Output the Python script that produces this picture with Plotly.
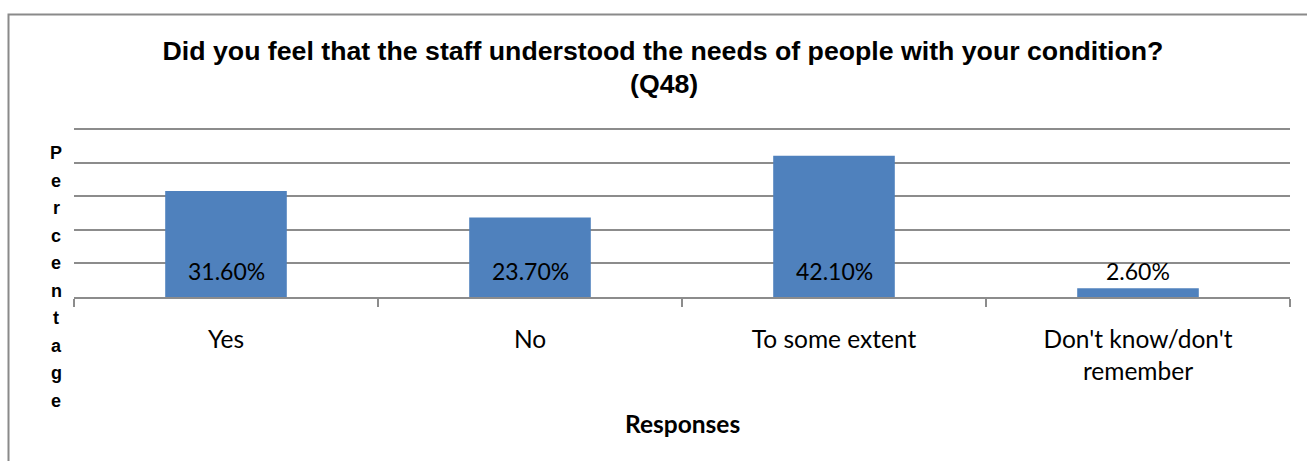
import plotly.graph_objects as go

# Survey responses (Q48)
categories = ["Yes", "No", "To some extent", "Don't know/don't remember"]
tick_text = ["Yes", "No", "To some extent", "Don't know/don't<br>remember"]
percentages = [31.6, 23.7, 42.1, 2.6]
y_grid_values = [0, 10, 20, 30, 40, 50]

title_line1 = "Did you feel that the staff understood the needs of people with your condition?"
title_line2 = "(Q48)"
y_title = "Percentage"
x_title = "Responses"

W, H = 1307, 461
M_L, M_R, M_T, M_B = 74, 17, 126, 164
PLOT_W = W - M_L - M_R
PLOT_H = H - M_T - M_B


def px_x(px):
    """Convert a page pixel x to paper coordinates."""
    return (px - M_L) / PLOT_W


def px_y(py):
    """Convert a page pixel y (from top) to paper coordinates."""
    return (H - M_B - py) / PLOT_H


BAR_COLOR = "#4F81BD"
GRID_COLOR = "#8c8c8c"
LABEL_FONT = "Lato, Calibri, sans-serif"
BOLD_FONT = "Liberation Sans, Arial, sans-serif"

fig = go.Figure(
    go.Bar(
        x=categories,
        y=percentages,
        marker=dict(color=BAR_COLOR, line=dict(width=0)),
        width=0.4,
        hoverinfo="skip",
    )
)

# value labels near the base of each bar
annotations = []
for cat, val in zip(categories, percentages):
    annotations.append(dict(
        x=cat, y=0, xref="x", yref="y",
        text=f"{val:.2f}%", showarrow=False,
        yshift=26, yanchor="middle",
        font=dict(family=LABEL_FONT, size=23, color="#000000"),
    ))

# second title line
annotations.append(dict(
    x=px_x(664), y=px_y(84), xref="paper", yref="paper",
    text=f"<b>{title_line2}</b>", showarrow=False,
    xanchor="center", yanchor="middle",
    font=dict(family=BOLD_FONT, size=26.7, color="#000000"),
))

# vertical, letter-stacked y-axis title
for i, ch in enumerate(y_title):
    annotations.append(dict(
        x=px_x(56), y=px_y(153 + i * 27.5), xref="paper", yref="paper",
        text=f"<b>{ch}</b>", showarrow=False,
        xanchor="center", yanchor="middle",
        font=dict(family=BOLD_FONT, size=18, color="#000000"),
    ))

# x-axis title
annotations.append(dict(
    x=px_x(682), y=px_y(423), xref="paper", yref="paper",
    text=f"<b>{x_title}</b>", showarrow=False,
    xanchor="center", yanchor="middle",
    font=dict(family=LABEL_FONT, size=24.5, color="#000000"),
))

fig.update_layout(
    width=W, height=H,
    margin=dict(l=M_L, r=M_R, t=M_T, b=M_B, pad=0),
    paper_bgcolor="#ffffff",
    plot_bgcolor="#ffffff",
    showlegend=False,
    title=dict(
        text=f"<b>{title_line1}</b>",
        x=663 / W, xref="container", xanchor="center",
        y=1 - 51 / H, yref="container", yanchor="middle",
        font=dict(family=BOLD_FONT, size=26.7, color="#000000"),
    ),
    annotations=annotations,
    shapes=[dict(
        type="rect", xref="paper", yref="paper",
        x0=px_x(8.5), x1=px_x(W + 20), y0=px_y(H + 20), y1=px_y(14.5),
        line=dict(color="#8a8a8a", width=2), fillcolor="rgba(0,0,0,0)",
        layer="below",
    )],
    xaxis=dict(
        type="category",
        tickmode="array", tickvals=categories, ticktext=tick_text,
        tickson="boundaries",
        ticks="outside", ticklen=8, tickwidth=1.5, tickcolor=GRID_COLOR,
        showline=True, linecolor=GRID_COLOR, linewidth=1.5,
        showgrid=False, zeroline=False,
        ticklabelstandoff=20,
        tickfont=dict(family=LABEL_FONT, size=24.5, color="#000000"),
        range=[-0.5, 3.5],
    ),
    yaxis=dict(
        range=[0, 51],
        tickmode="array", tickvals=y_grid_values,
        showticklabels=False,
        showgrid=True, gridcolor=GRID_COLOR, gridwidth=1.5,
        zeroline=False, showline=False, ticks="",
    ),
)

fig.write_html("out.html")
